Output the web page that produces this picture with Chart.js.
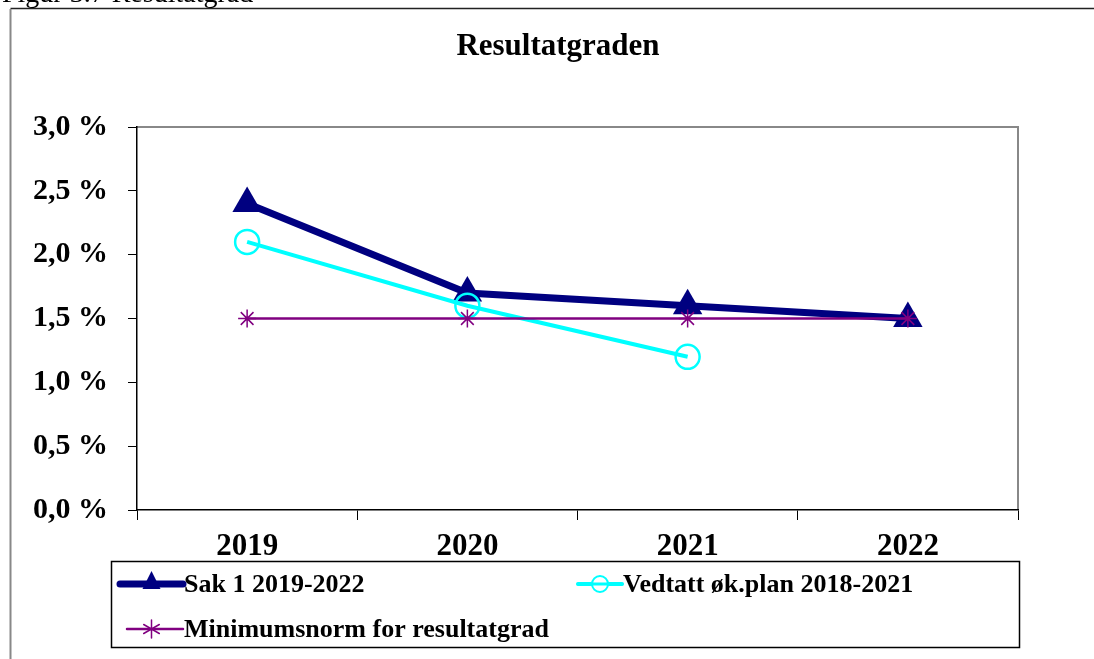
<!DOCTYPE html>
<html>
<head>
<meta charset="utf-8">
<script src="https://cdn.jsdelivr.net/npm/chart.js@4/dist/chart.umd.min.js"></script>
<style>
  html, body { margin: 0; padding: 0; background: #fff; overflow: hidden; }
  #wrap { position: relative; width: 1094px; height: 659px; }
  #cap { position: absolute; left: 2px; top: -23px; z-index: 2; font: 28px/32px "Liberation Serif", serif; color: #000; }
  canvas { position: absolute; left: 0; top: 0; z-index: 1; }
</style>
</head>
<body>
<div id="wrap">
  <div id="cap">Figur 3.7 Resultatgrad</div>
  <canvas id="myChart" width="1094" height="659"></canvas>
</div>
<script>
const years = ['2019', '2020', '2021', '2022'];
const sak1 = [2.4, 1.7, 1.6, 1.5];
const vedtatt = [2.1, 1.6, 1.2, null];
const minimum = [1.5, 1.5, 1.5, 1.5];
const seriesNames = ['Sak 1 2019-2022', 'Vedtatt øk.plan 2018-2021', 'Minimumsnorm for resultatgrad'];
const yTicks = [0, 0.5, 1, 1.5, 2, 2.5, 3];

const serif = '"Liberation Serif", "Times New Roman", serif';

// frame, plot border, title and the boxed legend
const decor = {
  id: 'decor',
  beforeDraw(chart) {
    const c = chart.ctx;
    const a = chart.chartArea;
    c.save();
    c.strokeStyle = '#222';
    c.lineWidth = 1.5;
    c.beginPath();
    c.moveTo(10.5, 8.5);
    c.lineTo(1100, 8.5);
    c.stroke();
    c.strokeStyle = '#888';
    c.lineWidth = 2;
    c.beginPath();
    c.moveTo(10.5, 9);
    c.lineTo(10.5, 700);
    c.stroke();
    c.beginPath();
    c.moveTo(a.left, a.top);
    c.lineTo(a.right, a.top);
    c.lineTo(a.right, a.bottom);
    c.stroke();
    c.restore();
  },
  afterDraw(chart) {
    const c = chart.ctx;
    c.save();
    c.fillStyle = '#000';
    c.font = 'bold 31px ' + serif;
    c.textAlign = 'center';
    c.textBaseline = 'middle';
    c.fillText('Resultatgraden', 558, 47);

    // legend box
    c.strokeStyle = '#000';
    c.lineWidth = 1.5;
    c.strokeRect(111.5, 561.5, 908, 86);
    const slots = [[120, 584], [578, 584], [120, 629]];
    chart.data.datasets.forEach((ds, i) => {
      const [x, y] = slots[i];
      const w = i === 1 ? 44 : 63;
      c.strokeStyle = ds.borderColor;
      c.lineWidth = i === 0 ? 7 : i === 1 ? 4 : 2.5;
      c.lineCap = 'round';
      c.beginPath();
      c.moveTo(x + (i === 2 ? 7 : 0), y);
      c.lineTo(x + w, y);
      c.stroke();
      const cx = x + w / 2 + (i === 1 ? -8 : 0);
      c.fillStyle = ds.borderColor;
      c.lineWidth = 2;
      if (i === 0) {
        c.beginPath();
        c.moveTo(cx, y - 13);
        c.lineTo(cx + 9, y + 5);
        c.lineTo(cx - 9, y + 5);
        c.closePath();
        c.fill();
      } else if (i === 1) {
        c.fillStyle = '#fff';
        c.beginPath();
        c.arc(x + 22, y, 8, 0, Math.PI * 2);
        c.fill();
        c.stroke();
        c.beginPath();
        c.moveTo(x, y); c.lineTo(x + w, y);
        c.lineWidth = 3;
        c.stroke();
      } else {
        c.lineWidth = 1.5;
        for (let k = 0; k < 3; k++) {
          const ang = Math.PI / 2 + k * Math.PI / 3;
          c.beginPath();
          c.moveTo(cx + Math.cos(ang) * 9, y + Math.sin(ang) * 9);
          c.lineTo(cx - Math.cos(ang) * 9, y - Math.sin(ang) * 9);
          c.stroke();
        }
      }
      c.fillStyle = '#000';
      c.font = 'bold 26px ' + serif;
      c.textAlign = 'left';
      c.textBaseline = 'middle';
      c.fillText(ds.label, x + w + 1, y + 1);
    });
    c.restore();
  }
};

const ctx = document.getElementById('myChart').getContext('2d');

new Chart(ctx, {
  type: 'line',
  data: {
    labels: years,
    datasets: [
      {
        label: seriesNames[0],
        data: sak1,
        borderColor: '#000080',
        backgroundColor: '#000080',
        borderWidth: 7,
        pointStyle: 'triangle',
        pointRadius: 17,
        pointBorderWidth: 0,
        order: 3,
      },
      {
        label: seriesNames[1],
        data: vedtatt,
        borderColor: '#00FFFF',
        backgroundColor: 'rgba(0,0,0,0)',
        borderWidth: 4,
        pointStyle: 'circle',
        pointRadius: 12,
        pointBorderWidth: 2.5,
        order: 2,
      },
      {
        label: seriesNames[2],
        data: minimum,
        borderColor: '#800080',
        backgroundColor: '#800080',
        borderWidth: 2.5,
        pointStyle: 'star',
        pointRadius: 9,
        pointBorderWidth: 1.5,
        order: 1,
      },
    ],
  },
  options: {
    responsive: false,
    animation: false,
    layout: { padding: { left: 0, right: 1094 - 1018, top: 127, bottom: 0 } },
    plugins: {
      legend: { display: false },
      title: { display: false },
      tooltip: { enabled: false },
    },
    scales: {
      x: {
        offset: true,
        grid: {
          offset: true,
          drawOnChartArea: false,
          drawTicks: true,
          tickLength: 10,
          color: '#000',
          lineWidth: 1,
        },
        border: { color: '#000', width: 1.5 },
        ticks: {
          color: '#000',
          font: { family: serif, size: 31, weight: 'bold' },
          padding: 8,
          maxRotation: 0,
        },
        afterFit(scale) { scale.height = 659 - 510; },
      },
      y: {
        min: 0,
        max: 3,
        afterBuildTicks(scale) { scale.ticks = yTicks.map(v => ({ value: v })); },
        grid: {
          drawOnChartArea: false,
          drawTicks: true,
          tickLength: 9,
          color: '#000',
        },
        border: { color: '#000', width: 1.5 },
        ticks: {
          color: '#000',
          font: { family: serif, size: 30, weight: 'bold' },
          padding: 20,
          callback: v => v.toFixed(1).replace('.', ',') + ' %',
        },
        afterFit(scale) { scale.width = 137; },
      },
    },
  },
  plugins: [decor],
});
</script>
</body>
</html>
